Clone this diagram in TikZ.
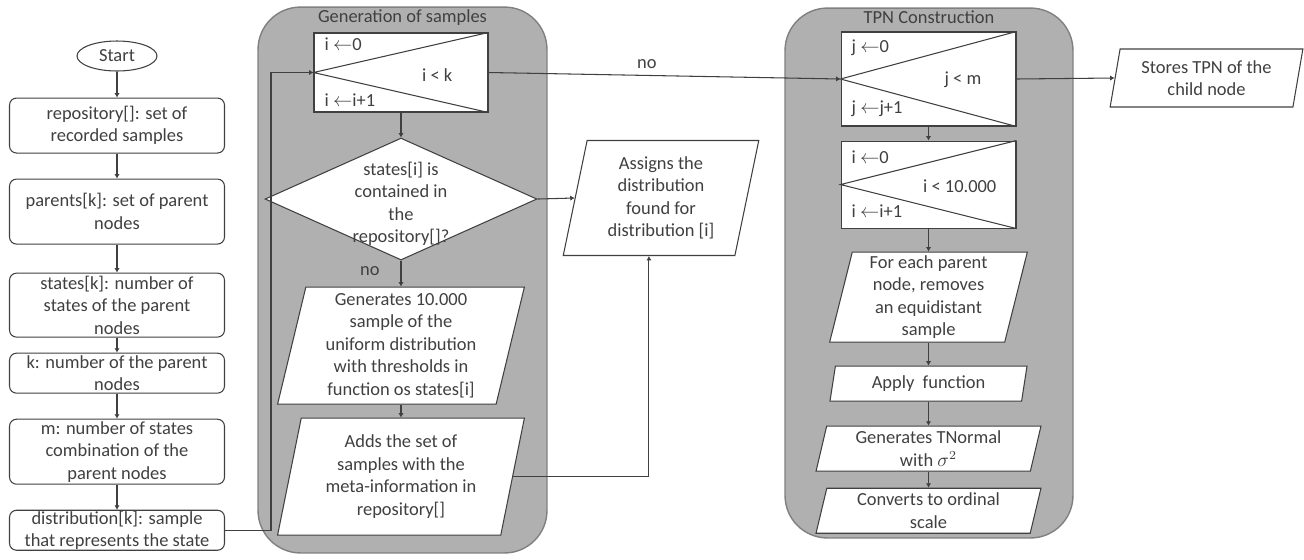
\documentclass[tikz,border=0pt]{standalone}
\usepackage{fontspec}
\setmainfont{Carlito}
\usepackage{tikz}
\usetikzlibrary{shapes.geometric, arrows.meta, positioning, calc}
\usepackage{xcolor}
\definecolor{ink}{HTML}{404040}
\definecolor{panel}{HTML}{B0B0B0}
\definecolor{panelline}{HTML}{808080}
\newcommand{\diagfont}{\fontsize{10.5}{12.8}\selectfont}
\tikzstyle{startstop} = [ellipse, minimum width=1.6cm, minimum height=0.6cm, inner sep=0pt, draw=ink, line width=0.6pt, fill=white]
\tikzstyle{process} = [rectangle, rounded corners=4pt, minimum width=4.3cm, inner ysep=0pt, align=center, draw=ink, line width=0.6pt, fill=white]
\tikzstyle{io} = [trapezium, trapezium left angle=77, trapezium right angle=103, trapezium stretches=true, inner ysep=0pt, align=center, draw=ink, line width=0.6pt, fill=white]
\tikzstyle{decision} = [diamond, minimum width=5.44cm, minimum height=2.44cm, inner sep=0pt, draw=ink, line width=0.6pt, fill=white]
\tikzstyle{loopbox} = [rectangle, minimum width=3.48cm, minimum height=1.58cm, draw=ink, line width=0.6pt, fill=white]
\tikzstyle{group} = [rectangle, rounded corners=0.85cm, draw=panelline, line width=0.8pt, fill=panel]
\tikzstyle{title} = [inner sep=0pt]
\tikzstyle{arrow} = [ink, line width=0.6pt, -{Latex[length=2.5pt,width=3pt]}]

\begin{document}
\begin{tikzpicture}[x=0.02cm, y=-0.02cm, node distance=0.52cm, every node/.style={font=\diagfont, text=ink}]
    \useasboundingbox (0,0) rectangle (1304,559);

    % panels
    \node (genbox) [group, minimum width=5.78cm, minimum height=10.92cm] at (402.5,280) {};
    \node (gentitle) [title, below=0.06cm of genbox.north] {Generation of samples};
    \node (tpnbox) [group, minimum width=5.76cm, minimum height=10.6cm] at (929,273) {};
    \node (tpntitle) [title, below=0.06cm of tpnbox.north] {TPN Construction};

    % inputs
    \node (start) [startstop] at (117,56) {Start};
    \node (repo) [process, below=of start, minimum height=1.1cm] {repository[]: set of\\recorded samples};
    \node (parents) [process, below=0.5cm of repo, minimum height=1.3cm] {parents[k]: set of parent\\nodes};
    \node (states) [process, below=0.56cm of parents, minimum height=1.28cm] {states[k]: number of\\states of the parent\\nodes};
    \node (k) [process, below=0.3cm of states, minimum height=0.8cm] {k: number of the parent\\nodes};
    \node (m) [process, below=0.5cm of k, minimum height=1.3cm] {m: number of states\\combination of the\\parent nodes};
    \node (dist) [process, below=0.5cm of m, minimum height=0.8cm] {distribution[k]: sample\\that represents the state};

    % generation of samples
    \node (loopA) [loopbox] at (401,72.5) {};
    \node (dec) [decision, below=0.5cm of loopA] {};
    \node (dectext) [align=center, yshift=-0.1cm] at (dec) {states[i] is\\contained in\\the\\repository[]?};
    \node (gen) [io, below=0.52cm of dec, minimum width=4.94cm, minimum height=2.34cm] {Generates 10.000\\sample of the\\uniform distribution\\with thresholds in\\function os states[i]};
    \node (adds) [io, below=0.26cm of gen, minimum width=4.94cm, minimum height=2.34cm] {Adds the set of\\samples with the\\meta-information in\\repository[]};
    \node (assign) [io, minimum width=3.92cm, minimum height=2.3cm] at (661,198) {Assigns the\\distribution\\found for\\distribution [i]};

    % TPN construction
    \node (loopB) [loopbox, minimum width=3.5cm, minimum height=1.88cm] at (928.5,79) {};
    \node (loopC) [loopbox, below=0.28cm of loopB, minimum width=3.5cm, minimum height=1.74cm] {};
    \node (each) [io, below=0.46cm of loopC, minimum width=3.98cm, minimum height=1.8cm] {For each parent\\node, removes\\an equidistant\\sample};
    \node (apply) [io, below=0.46cm of each, minimum width=3.96cm, minimum height=0.7cm] {Apply\ \ function};
    \node (tnorm) [io, below=0.48cm of apply, minimum width=4.5cm, minimum height=0.9cm] {Generates TNormal\\with $\sigma^2$};
    \node (conv) [io, below=0.32cm of tnorm, minimum width=4.54cm, minimum height=0.9cm] {Converts to ordinal\\scale};
    \node (stores) [io, minimum width=3.86cm, minimum height=1.16cm] at (1206.5,78) {Stores TPN of the\\child node};

    % loop headers
    \foreach \l in {loopA, loopB, loopC} {
        \draw [ink, line width=0.6pt] (\l.north east) -- (\l.west) -- (\l.south east);
    }
    \node (initA) [anchor=west] at ($(loopA.north west)+(5,12)$) {i $\leftarrow$0};
    \node (condA) [anchor=east] at ($(loopA.east)+(-30,3)$) {i < k};
    \node (incA) [anchor=west] at ($(loopA.south west)+(5,-12)$) {i $\leftarrow$i+1};
    \node (initB) [anchor=west] at ($(loopB.north west)+(5,16)$) {j $\leftarrow$0};
    \node (condB) [anchor=east] at ($(loopB.east)+(-29,1)$) {j < m};
    \node (incB) [anchor=west] at ($(loopB.south west)+(5,-18)$) {j $\leftarrow$j+1};
    \node (initC) [anchor=west] at ($(loopC.north west)+(5,17)$) {i $\leftarrow$0};
    \node (condC) [anchor=east] at ($(loopC.east)+(-14,2)$) {i < 10.000};
    \node (incC) [anchor=west] at ($(loopC.south west)+(5,-17)$) {i $\leftarrow$i+1};

    % connectors
    \foreach \i/\j in {start/repo, repo/parents, parents/states, states/k, k/m, m/dist, loopA/dec, gen/adds, loopB/loopC, loopC/each, each/apply, apply/tnorm, tnorm/conv} {
        \draw [arrow] (\i.south) -- (\j.north);
    }
    \draw [arrow] (dist.east) -- ++(46,0) |- (loopA.west);
    \draw [arrow] (dec.south) -- node (noA) [left=0.3cm, pos=0.4] {no} (gen.north);
    \draw [arrow] (dec.east) -- (assign.left side);
    \draw [arrow] (adds.right side) -| (assign.bottom side);
    \draw [arrow] (loopA.east) -- node (noB) [above, pos=0.45] {no} (loopB.west);
    \draw [arrow] (loopB.east) -- (stores.left side);
\end{tikzpicture}
\end{document}
